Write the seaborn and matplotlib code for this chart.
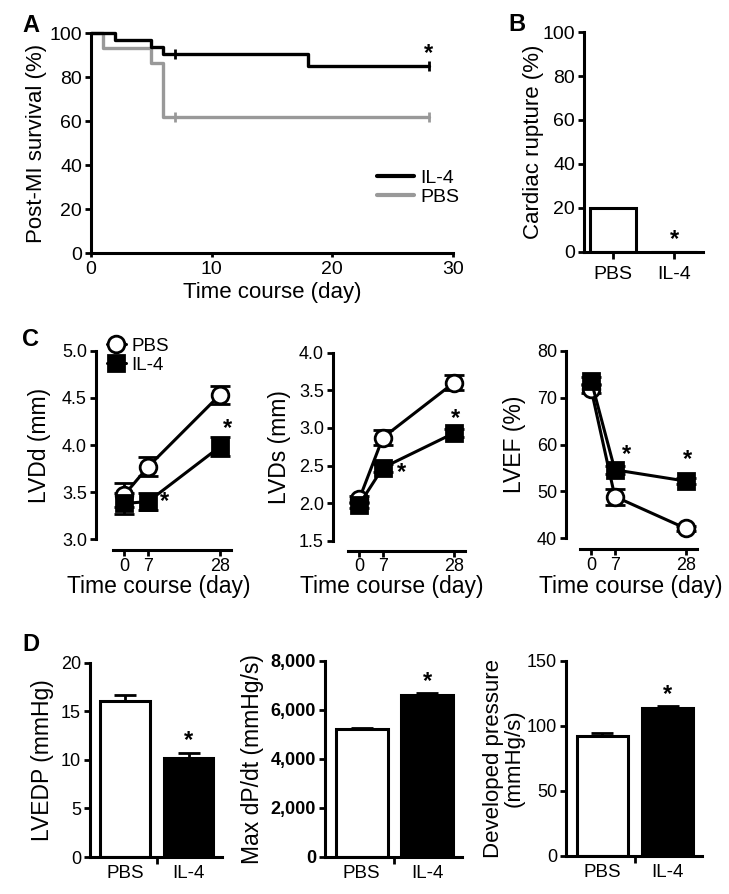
import numpy as np
import pandas as pd
import matplotlib
matplotlib.use("Agg")
import matplotlib.pyplot as plt
from matplotlib.lines import Line2D
import seaborn as sns

# ---- data ----
# A: Kaplan-Meier survival
km_days_il4 = [0, 2, 5, 6, 18, 28]
km_surv_il4 = [100, 96.8, 93.5, 90.3, 85.2, 85.2]
km_days_pbs = [0, 1, 5, 6, 28]
km_surv_pbs = [100, 93.0, 86.2, 61.7, 61.7]
censor_days = [7, 28]
censor_il4 = [90.3, 85.2]
censor_pbs = [61.7, 61.7]

# B: cardiac rupture
groups = ["PBS", "IL-4"]
rupture = [20, 0]

# C: echo over time
days = [0, 7, 28]
lvdd_pbs = [3.47, 3.77, 4.53]
lvdd_pbs_err = [0.13, 0.10, 0.10]
lvdd_il4 = [3.38, 3.40, 3.98]
lvdd_il4_err = [0.11, 0.09, 0.10]
lvds_pbs = [2.05, 2.87, 3.60]
lvds_pbs_err = [0.05, 0.10, 0.10]
lvds_il4 = [1.98, 2.47, 2.93]
lvds_il4_err = [0.04, 0.05, 0.05]
lvef_pbs = [71.8, 48.9, 42.1]
lvef_pbs_err = [0.8, 1.7, 0.6]
lvef_il4 = [73.6, 54.6, 52.2]
lvef_il4_err = [0.8, 0.8, 0.6]

# D: hemodynamics
lvedp = [16.1, 10.2]
lvedp_err = [0.6, 0.5]
dpdt = [5200, 6600]
dpdt_err = [60, 100]
devp = [92, 114]
devp_err = [2.5, 1.2]

sns.set_theme(style="ticks")
plt.rcParams["font.family"] = ["Liberation Sans", "DejaVu Sans"]
plt.rcParams.update({
    "axes.linewidth": 2.2,
    "xtick.major.width": 2.0, "ytick.major.width": 2.0,
    "xtick.minor.width": 2.0,
    "xtick.major.size": 4.5, "ytick.major.size": 4.5,
    "xtick.labelsize": 13, "ytick.labelsize": 13,
    "axes.labelsize": 16,
    "xtick.color": "black", "ytick.color": "black",
    "axes.edgecolor": "black", "text.color": "black", "axes.labelcolor": "black",
    "xtick.major.pad": 3, "ytick.major.pad": 2,
})

W, H = 729, 894
fig = plt.figure(figsize=(W / 100, H / 100), dpi=100)


def box(x0, y0, x1, y1):
    a = fig.add_axes([x0 / W, 1 - y1 / H, (x1 - x0) / W, (y1 - y0) / H])
    a.set_facecolor("none")
    return a


def ylab(a, text, px_right, x0, x1, **kw):
    a.set_ylabel(text, **kw)
    a.yaxis.set_label_coords((px_right - x0) / (x1 - x0), 0.5)


def xlab(a, text, px_center, px_top, x0, y0, x1, y1):
    a.set_xlabel(text)
    a.xaxis.set_label_coords((px_center - x0) / (x1 - x0), -(px_top - y1) / (y1 - y0))
    a.xaxis.label.set_va("top")


def star(a, x, y, size=17):
    a.text(x, y, "*", ha="center", va="center", fontsize=size, fontweight="bold",
           clip_on=False)


# ---------------- A ----------------
axA = box(91, 33, 453, 253)
sns.lineplot(x=km_days_pbs, y=km_surv_pbs, drawstyle="steps-post", color="#999999",
             lw=2.4, ax=axA, clip_on=False)
sns.lineplot(x=km_days_il4, y=km_surv_il4, drawstyle="steps-post", color="black",
             lw=2.4, ax=axA, clip_on=False)
axA.scatter(censor_days, censor_pbs, marker="|", s=60, color="#999999", linewidths=2, clip_on=False)
axA.scatter(censor_days, censor_il4, marker="|", s=60, color="black", linewidths=2, clip_on=False)
axA.set_xlim(0, 30)
axA.set_ylim(0, 100)
axA.set_xticks([0, 10, 20, 30])
axA.set_yticks([0, 20, 40, 60, 80, 100])
axA.tick_params(labelsize=14)
sns.despine(ax=axA)
axA.tick_params(axis="x", length=3)
ylab(axA, "Post-MI survival (%)", 47, 91, 453)
xlab(axA, "Time course (day)", 272, 282, 91, 33, 453, 253)
handles = [Line2D([], [], color="black", lw=3), Line2D([], [], color="#999999", lw=3)]
axA.legend(handles, ["IL-4", "PBS"], loc="upper left", bbox_to_anchor=(0.79, 0.38),
           frameon=False, fontsize=14, handlelength=1.9, handletextpad=0.35,
           labelspacing=0.05, borderpad=0, borderaxespad=0)
star(axA, 28, 90.5)

# ---------------- B ----------------
axB = box(584, 32, 703, 252)
sns.barplot(x=groups, y=rupture, hue=groups, palette={"PBS": "white", "IL-4": "black"},
            edgecolor="black", linewidth=2.2, width=0.75, errorbar=None, legend=False, ax=axB)
axB.set_xlim(-0.475, 1.475)
axB.set_ylim(0, 100)
axB.set_yticks([0, 20, 40, 60, 80, 100])
axB.tick_params(labelsize=14)
sns.despine(ax=axB)
axB.tick_params(axis="x", length=5, pad=5)
axB.set_xlabel("")
ylab(axB, "Cardiac rupture (%)", 544, 584, 703)
star(axB, 1, 5.5)

# ---------------- C ----------------
c_panels = [
    (113, 350.7, 231, 539.3, 17, 10.7, (3.0, 5.0), [3.0, 3.5, 4.0, 4.5, 5.0], "{:.1f}",
     lvdd_pbs, lvdd_pbs_err, lvdd_il4, lvdd_il4_err, "LVDd (mm)", 51, 159,
     [(11.7, 3.40), (30.3, 4.17)]),
    (348, 352.7, 465, 540.7, 15, 10, (1.5, 4.0), [1.5, 2.0, 2.5, 3.0, 3.5, 4.0], "{:.1f}",
     lvds_pbs, lvds_pbs_err, lvds_il4, lvds_il4_err, "LVDs (mm)", 291, 392,
     [(12.5, 2.41), (28.6, 3.13)]),
    (580, 350.7, 697, 538.3, 14, 11, (40, 80), [40, 50, 60, 70, 80], "{:.0f}",
     lvef_pbs, lvef_pbs_err, lvef_il4, lvef_il4_err, "LVEF (%)", 526, 631,
     [(10.4, 57.8), (28.6, 56.7)]),
]
for i, (x0, y0, x1, y1, lo, bo, yl, yt, fmt, vp, ep, vi, ei, lab, lx, cx, stars) in enumerate(c_panels):
    ax = box(x0, y0, x1, y1)
    ax.errorbar(days, vp, yerr=ep, fmt="none", ecolor="black", elinewidth=2, capsize=7,
                capthick=2, zorder=1, clip_on=False)
    ax.errorbar(days, vi, yerr=ei, fmt="none", ecolor="black", elinewidth=2, capsize=7,
                capthick=2, zorder=1, clip_on=False)
    sns.lineplot(x=days, y=vp, color="black", lw=2.2, marker="o", markersize=12,
                 markerfacecolor="white", markeredgecolor="black", markeredgewidth=2,
                 label="PBS", ax=ax, clip_on=False, zorder=3)
    sns.lineplot(x=days, y=vi, color="black", lw=2.2, marker="s", markersize=11,
                 markerfacecolor="black", markeredgecolor="black", markeredgewidth=2,
                 label="IL-4", ax=ax, clip_on=False, zorder=4)
    ax.set_xlim(-3.3, 31.3)
    ax.set_ylim(*yl)
    ax.set_yticks(yt)
    ax.set_yticklabels([fmt.format(v) for v in yt])
    ax.set_xticks(days)
    sns.despine(ax=ax, offset={"left": lo * 0.72, "bottom": bo * 0.72})
    ax.tick_params(axis="x", length=4, pad=1.5)
    ax.set_ylabel(lab, fontsize=16.5)
    ax.yaxis.set_label_coords((lx - x0) / (x1 - x0), 0.5)
    ax.set_xlabel("Time course (day)", fontsize=16.5)
    ax.xaxis.set_label_coords((cx - x0) / (x1 - x0), -(575 - y1) / (y1 - y0))
    ax.xaxis.label.set_va("top")
    for sx, sy in stars:
        star(ax, sx, sy)
    if i == 0:
        ax.legend(loc="upper left", bbox_to_anchor=(-0.05, 1.07), frameon=False,
                  fontsize=13.5, handlelength=1.0, handletextpad=0.3, labelspacing=0.1,
                  borderpad=0, borderaxespad=0)
    else:
        ax.get_legend().remove()

# ---------------- D ----------------
d_panels = [
    (90, 662.7, 222, 857, (0, 20), [0, 5, 10, 15, 20], lvedp, lvedp_err, "LVEDP (mmHg)", 54,
     12.0, False, "{:.0f}"),
    (325, 660.7, 462, 856.7, (0, 8000), [0, 2000, 4000, 6000, 8000], dpdt, dpdt_err,
     "Max dP/dt (mmHg/s)", 264, 7130, True, "{:,.0f}"),
    (566, 660.7, 702, 856, (0, 150), [0, 50, 100, 150], devp, devp_err,
     "Developed pressure\n(mmHg/s)", 525, 123.7, False, "{:.0f}"),
]
for x0, y0, x1, y1, yl, yt, vals, errs, lab, lx, sy, bold, fmt in d_panels:
    ax = box(x0, y0, x1, y1)
    ax.errorbar([0, 1], vals, yerr=[[0, 0], errs], fmt="none", ecolor="black", elinewidth=2,
                capsize=8, capthick=2, zorder=0)
    sns.barplot(x=groups, y=vals, hue=groups, palette={"PBS": "white", "IL-4": "black"},
                edgecolor="black", linewidth=2.2, width=0.79, errorbar=None, legend=False, ax=ax)
    ax.set_xlim(-0.56, 1.53)
    ax.set_ylim(*yl)
    ax.set_yticks(yt)
    ax.set_yticklabels([fmt.format(v) for v in yt],
                       fontweight="bold" if bold else "normal")
    ax.set_xticks([0.5], minor=True)
    ax.tick_params(axis="x", which="major", length=0, pad=6, labelsize=13.5)
    ax.tick_params(axis="x", which="minor", length=5, width=2)
    ax.set_xlabel("")
    sns.despine(ax=ax)
    ylab(ax, lab, lx, x0, x1, linespacing=1.0, fontsize=16 if "\n" in lab else 16.5)
    star(ax, 1, sy)

# panel letters
for letter, px, py in [("A", 22, 14), ("B", 508, 13), ("C", 22, 328), ("D", 22, 633)]:
    fig.text(px / W, 1 - py / H, letter, fontsize=17, fontweight="bold", va="top", ha="left")

fig.savefig("out.png", dpi=100)
